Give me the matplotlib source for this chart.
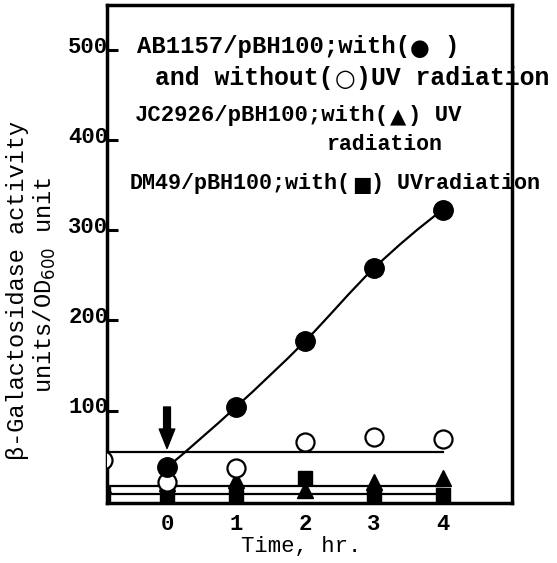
import matplotlib
matplotlib.use("Agg")
import matplotlib.pyplot as plt
import matplotlib.transforms as mtransforms
from matplotlib.path import Path
from matplotlib.patches import PathPatch
import numpy as np

# ---- data ----
time_pts = [0, 1, 2, 3, 4]
ab_uv = [37, 104, 177, 258, 323]          # filled circles
ab_no_uv_x = [-0.93, 0, 1, 2, 3, 4]
ab_no_uv = [45, 21, 36, 65, 71, 68]       # open circles
jc_x = [-0.93, 0, 1, 2, 3, 4]
jc_uv = [18, 20, 23, 12, 21, 25]          # triangles
dm_x = [-0.93, 0, 1, 2, 3, 4]
dm_uv = [8, 6, 5, 25, 6, 6]               # squares
level_lines = [54, 16, 7]                 # horizontal mean lines
arrow_from, arrow_to = 104, 58            # UV arrow at time 0

xticks = [0, 1, 2, 3, 4]
yticks = [100, 200, 300, 400, 500]

W, H = 557, 563
fig = plt.figure(figsize=(W / 100, H / 100), dpi=100)
ax = fig.add_axes([107 / W, 1 - 503 / H, (512 - 107) / W, (503 - 5) / H])
ax.set_xlim(-0.87, 5.0)
ax.set_ylim(-2.5, 550)

mono = ['Liberation Mono', 'DejaVu Sans Mono']

# smooth curve through filled circles (cubic Bezier segments)
xs = np.array(time_pts, float)
ys = np.array(ab_uv, float)
m = np.zeros_like(ys)
m[1:-1] = (ys[2:] - ys[:-2]) / (xs[2:] - xs[:-2])
m[0] = 2 * (ys[1] - ys[0]) / (xs[1] - xs[0]) - m[1]
m[-1] = 2 * (ys[-1] - ys[-2]) / (xs[-1] - xs[-2]) - m[-2]
verts = [(xs[0], ys[0])]
codes = [Path.MOVETO]
for i in range(len(xs) - 1):
    dx = xs[i + 1] - xs[i]
    verts += [(xs[i] + dx / 3, ys[i] + m[i] * dx / 3),
              (xs[i + 1] - dx / 3, ys[i + 1] - m[i + 1] * dx / 3),
              (xs[i + 1], ys[i + 1])]
    codes += [Path.CURVE4] * 3
ax.add_patch(PathPatch(Path(verts, codes), fill=False, lw=1.6, color='black', zorder=2))

# horizontal lines
for lv in level_lines:
    ax.plot([-0.87, 4], [lv, lv], color='black', lw=1.6, zorder=2)

# markers
ax.plot(dm_x, dm_uv, 's', color='black', ms=10, zorder=3)
ax.plot(jc_x, jc_uv, '^', color='black', ms=12, zorder=4)
ax.plot(ab_no_uv_x, ab_no_uv, 'o', mfc='white', mec='black', mew=1.6, ms=13, zorder=5)
ax.plot(time_pts, ab_uv, 'o', color='black', ms=14, zorder=6)

# arrow
ax.annotate('', xy=(0, arrow_to), xytext=(0, arrow_from),
            arrowprops=dict(arrowstyle='simple,head_width=0.8,head_length=1.0,tail_width=0.35',
                            color='black', mutation_scale=14, shrinkA=0, shrinkB=0))

# axes styling
for s in ax.spines.values():
    s.set_linewidth(2.5)
ax.set_xticks(xticks)
ax.set_xticklabels([str(v) for v in xticks], fontsize=16, family=mono, weight='bold')
ax.tick_params(axis='x', length=0, pad=8)
ax.set_yticks(yticks)
ax.set_yticklabels([str(v) for v in yticks], fontsize=16, family=mono, weight='bold')
ax.tick_params(axis='y', direction='in', length=8, width=2.2, pad=-1)
off = mtransforms.ScaledTranslation(0, 4 / 72, fig.dpi_scale_trans)
for lab in ax.get_yticklabels():
    lab.set_transform(lab.get_transform() + off)

ax.text(0.48, -0.088, 'Time, hr.', transform=ax.transAxes, ha='center', va='center',
        fontsize=16, family=mono)

fig.text(18 / W, 1 - 290 / H, 'β-Galactosidase activity', rotation=90, ha='center',
         va='center', fontsize=17, family=mono)
fig.text(45 / W, 1 - 285 / H, 'units/OD$_{600}$ unit', rotation=90, ha='center',
         va='center', fontsize=17, family=mono)

# in-plot legend text; pieces placed on the monospace character grid,
# the marker symbols get a slightly wider cell of their own
SYMS = '●○▲■'
def ftxt(x, y, s, size, symscale=0.95, symcell=1.45):
    cw = 0.6 * size * 100 / 72
    pos = x
    buf = ''
    buf_x = None

    def flush(buf, bx):
        if buf.strip(' '):
            lead = len(buf) - len(buf.lstrip(' '))
            fig.text((bx + lead * cw) / W, 1 - y / H, buf.strip(' '), ha='left',
                     va='center', fontsize=size, family=mono, weight='bold')

    for c in s:
        if c in SYMS:
            flush(buf, buf_x)
            buf, buf_x = '', None
            w = symcell * cw
            fig.text((pos + w / 2) / W, 1 - (y + 1) / H, c, ha='center', va='center',
                     fontsize=size * symscale, family='DejaVu Sans')
            pos += w
        else:
            if buf_x is None:
                buf_x = pos
            buf += c
            pos += cw
    flush(buf, buf_x)

ftxt(137, 47, 'AB1157/pBH100;with(● )', 17.2)
ftxt(155, 78, 'and without(○)UV radiation', 17.9)
ftxt(135, 116, 'JC2926/pBH100;with(▲) UV', 16)
ftxt(327, 145, 'radiation', 15.5)
ftxt(130, 184, 'DM49/pBH100;with(■) UVradiation', 15.7)

fig.savefig('out.png', dpi=100)
